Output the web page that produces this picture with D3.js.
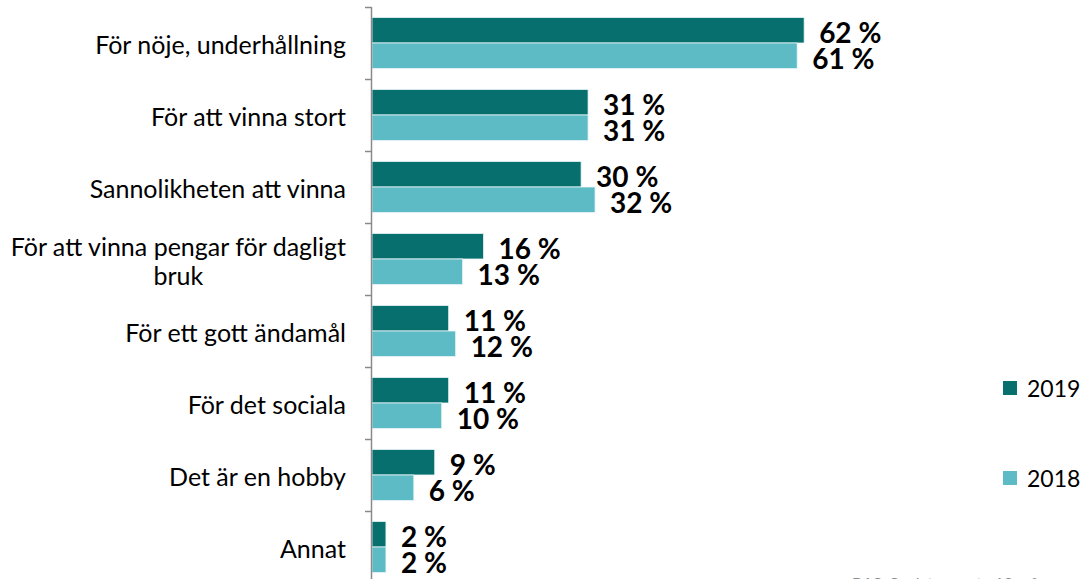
<!DOCTYPE html>
<html><head><meta charset="utf-8">
<script src="https://cdn.jsdelivr.net/npm/d3@7"></script>
<style>
html,body{margin:0;padding:0;background:#fff;}
svg{display:block;}
</style></head>
<body>
<svg id="chart" width="1081" height="579"></svg>
<script>
// ---- data ----
const categories = [
  ["För nöje, underhållning"],
  ["För att vinna stort"],
  ["Sannolikheten att vinna"],
  ["För att vinna pengar för dagligt", "bruk"],
  ["För ett gott ändamål"],
  ["För det sociala"],
  ["Det är en hobby"],
  ["Annat"]
];
const seriesNames = ["2019", "2018"];
const values2019 = [62, 31, 30, 16, 11, 11, 9, 2];
const values2018 = [61, 31, 32, 13, 12, 10, 6, 2];
const footnote = "BAS: Spelat senaste 12 mån";

const colors = {"2019": "#07706e", "2018": "#5dbbc5"};
const seriesValues = {"2019": values2019, "2018": values2018};

const svg = d3.select("#chart");
const W = 1081, H = 579;

const keys = categories.map((c, i) => i);
const y = d3.scaleBand().domain(keys).range([7, 583]).paddingInner(0).paddingOuter(0);
const ySub = d3.scaleBand().domain(seriesNames).range([10.5, 61.5]).padding(0);
const x = d3.scaleLinear().domain([0, 100]).range([372, 1069]);

// bars
const g = svg.append("g");
categories.forEach((c, i) => {
  seriesNames.forEach(s => {
    const v = seriesValues[s][i];
    g.append("rect")
      .attr("x", x(0))
      .attr("y", y(i) + ySub(s))
      .attr("width", x(v) - x(0))
      .attr("height", ySub.bandwidth())
      .attr("fill", colors[s])
      .attr("stroke", "#e8f4f4")
      .attr("stroke-width", 0.8);
    g.append("text")
      .attr("x", x(v) + 15)
      .attr("y", y(i) + ySub(s) + ySub.bandwidth() / 2 + 2)
      .attr("dominant-baseline", "central")
      .attr("font-family", "Lato, 'Open Sans', sans-serif")
      .attr("font-weight", "bold")
      .attr("font-size", 28)
      .attr("fill", "#000")
      .text(v + " %");
  });
});

// axis line + ticks at band boundaries
const axisG = svg.append("g").attr("stroke", "#8a8a8a").attr("stroke-width", 1.5);
axisG.append("line").attr("x1", 371.5).attr("x2", 371.5).attr("y1", y(0)).attr("y2", H);
const bounds = keys.map(k => y(k)).concat([y.range()[1]]);
bounds.forEach(b => {
  axisG.append("line").attr("x1", 365).attr("x2", 371.5).attr("y1", b + 0.5).attr("y2", b + 0.5);
});

// category labels
const labelRight = 346;
const lineH = 29;
categories.forEach((lines, i) => {
  const cy = y(i) + y.bandwidth() / 2 + 1;
  const t = svg.append("text")
    .attr("font-family", "Lato, 'Open Sans', sans-serif")
    .attr("font-size", 25)
    .attr("fill", "#000");
  lines.forEach((ln, j) => {
    t.append("tspan").attr("y", cy + (j - (lines.length - 1) / 2) * lineH)
      .attr("dominant-baseline", "central").text(ln);
  });
  if (lines.length === 1) {
    t.attr("text-anchor", "end").selectAll("tspan").attr("x", labelRight);
  } else {
    let maxW = 0;
    t.selectAll("tspan").each(function(){ maxW = Math.max(maxW, this.getComputedTextLength()); });
    t.attr("text-anchor", "middle").selectAll("tspan").attr("x", labelRight - maxW / 2);
  }
});

// legend
const legendY = {"2019": 388, "2018": 478};
seriesNames.forEach(s => {
  svg.append("rect").attr("x", 1003).attr("y", legendY[s] - 7).attr("width", 14).attr("height", 14)
    .attr("fill", colors[s]);
  svg.append("text").attr("x", 1027).attr("y", legendY[s]).attr("dominant-baseline", "central")
    .attr("font-family", "Lato, 'Open Sans', sans-serif").attr("font-size", 23).attr("fill", "#000")
    .text(s);
});

// footnote (cut off at bottom)
svg.append("text").attr("x", 852).attr("y", 589)
  .attr("font-family", "Lato, 'Open Sans', sans-serif").attr("font-size", 16).attr("fill", "#8a8a8a")
  .text(footnote);
</script>
</body></html>
